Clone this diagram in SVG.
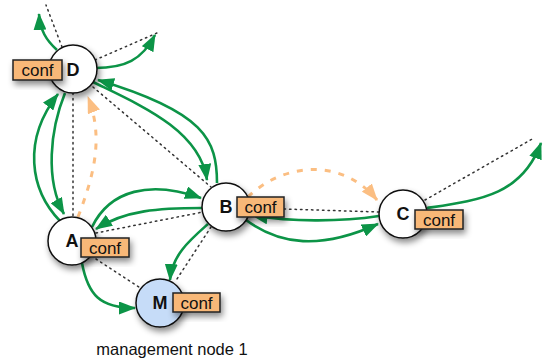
<svg xmlns="http://www.w3.org/2000/svg" width="544" height="358" viewBox="0 0 544 358">
<style>
.dot{fill:none;stroke:#333;stroke-width:1.5;stroke-dasharray:1.5,4;stroke-linecap:round}
.g{fill:none;stroke:#0c9447;stroke-width:2.6;marker-end:url(#ga)}
.o{fill:none;stroke:#fbbe82;stroke-width:3;stroke-dasharray:6,8;marker-end:url(#oa)}
.c{fill:#fff;stroke:#111;stroke-width:1.5;filter:url(#sh)}
.cm{fill:#c6dcf8}
.box{fill:#f8b878;stroke:#222;stroke-width:1.5;filter:url(#sh)}
.bt{font-family:"Liberation Sans",Arial,sans-serif;font-size:17px;fill:#111;text-anchor:middle}
.lt{font-family:"Liberation Sans",Arial,sans-serif;font-size:18px;font-weight:bold;fill:#111;text-anchor:middle}
.cap{font-family:"Liberation Sans",Arial,sans-serif;font-size:16.5px;fill:#111;text-anchor:middle}
</style>
<defs>
<marker id="ga" markerUnits="userSpaceOnUse" markerWidth="17" markerHeight="13" refX="16" refY="6.5" orient="auto"><path d="M0,0 L17,6.5 L0,13 z" fill="#0c9447"/></marker>
<marker id="oa" markerUnits="userSpaceOnUse" markerWidth="17" markerHeight="13" refX="16" refY="6.5" orient="auto"><path d="M0,0 L17,6.5 L0,13 z" fill="#fbbe82"/></marker>
<filter id="sh" x="-40%" y="-40%" width="180%" height="190%"><feDropShadow dx="2" dy="4" stdDeviation="3" flood-color="#000" flood-opacity="0.45"/></filter>
</defs>
<g id="connectors">
<line class="dot" x1="62" y1="47" x2="46" y2="5"/>
<line class="dot" x1="95" y1="60" x2="157" y2="33"/>
<line class="dot" x1="73" y1="93" x2="73" y2="217"/>
<line class="dot" x1="93" y1="87" x2="211" y2="187"/>
<line class="dot" x1="96" y1="233" x2="203" y2="212"/>
<line class="dot" x1="96" y1="259" x2="142" y2="289"/>
<line class="dot" x1="211" y1="227" x2="175" y2="282"/>
<line class="dot" x1="284" y1="209" x2="379" y2="212"/>
<line class="dot" x1="425" y1="200" x2="534" y2="138"/>
<path class="g" d="M57,50 C46,40 40,30 39,14"/>
<path class="g" d="M95,68 C125,68 142,60 155,35"/>
<path class="g" d="M60,221 C30,190 22,140 58,94"/>
<path class="g" d="M65,93 C50,130 45,180 64,214"/>
<path class="g" d="M93,82 C140,105 200,130 207,180"/>
<path class="g" d="M217,183 C217,140 205,112 98,80"/>
<path class="g" d="M92,227 C110,190 150,180 201,198"/>
<path class="g" d="M202,208 C160,208 125,210 96,229"/>
<path class="g" d="M82,263 C88,295 100,308 135,308"/>
<path class="g" d="M208,224 C190,240 172,255 170,280"/>
<path class="g" d="M246,220 C280,245 320,250 378,224"/>
<path class="g" d="M379,216 C340,222 290,222 252,215"/>
<path class="g" d="M427,208 C480,200 522,195 541,143"/>
<path class="o" d="M78,217 C92,180 105,140 88,97"/>
<path class="o" d="M248,197 C280,165 340,155 377,200"/>
</g>
<g id="D">
<circle class="c" cx="73" cy="69" r="24"/>
<rect class="box" x="13" y="60" width="49" height="20"/>
<text class="bt" x="37.5" y="76">conf</text>
<text class="lt" x="73" y="76">D</text>
</g>
<g id="A">
<circle class="c" cx="72" cy="241" r="24"/>
<rect class="box" x="81" y="238" width="48" height="19"/>
<text class="bt" x="105" y="254">conf</text>
<text class="lt" x="72" y="247">A</text>
</g>
<g id="B">
<circle class="c" cx="226" cy="207" r="24"/>
<rect class="box" x="237" y="197" width="47" height="20"/>
<text class="bt" x="260.5" y="213">conf</text>
<text class="lt" x="226" y="213">B</text>
</g>
<g id="C">
<circle class="c" cx="403" cy="214" r="24"/>
<rect class="box" x="415" y="210" width="48" height="19"/>
<text class="bt" x="439" y="226">conf</text>
<text class="lt" x="403" y="220">C</text>
</g>
<g id="M">
<circle class="c cm" cx="160" cy="303" r="24"/>
<rect class="box" x="173" y="293" width="47" height="19"/>
<text class="bt" x="196.5" y="309">conf</text>
<text class="lt" x="160" y="309">M</text>
<text class="cap" x="172" y="355">management node 1</text>
</g>
</svg>
